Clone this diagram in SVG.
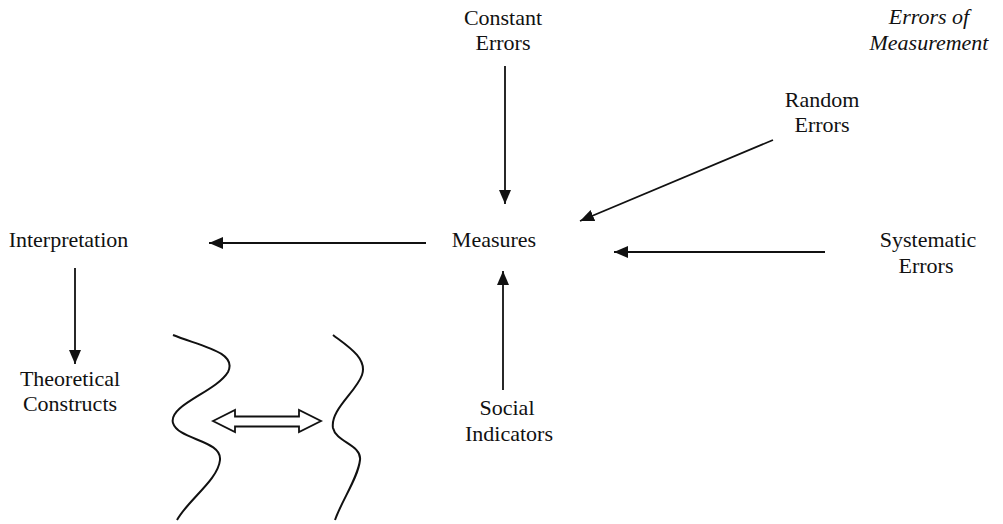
<svg xmlns="http://www.w3.org/2000/svg" width="1003" height="524" viewBox="0 0 1003 524">
<style>
text{font-family:'Liberation Serif','DejaVu Serif',serif;font-size:22px;fill:#111;text-anchor:middle}
.it{font-style:italic}
.ln{stroke:#111;stroke-width:1.8;fill:none}
.wave{stroke:#111;stroke-width:2;fill:none}
</style>
<defs>
<marker id="ah" viewBox="0 0 14 12" refX="14" refY="6" markerWidth="14" markerHeight="12" markerUnits="userSpaceOnUse" orient="auto">
<path d="M0,0 L14,6 L0,12 z" fill="#111"/>
</marker>
</defs>
<g id="errors-of-measurement"><text class="it" x="929" y="24">Errors of</text><text class="it" x="929" y="50">Measurement</text></g>
<g id="constant-errors"><text x="503" y="25">Constant</text><text x="503" y="50">Errors</text></g>
<g id="random-errors"><text x="822" y="107">Random</text><text x="822" y="132">Errors</text></g>
<g id="measures"><text x="494" y="247">Measures</text></g>
<g id="interpretation"><text x="68.5" y="247">Interpretation</text></g>
<g id="systematic-errors"><text x="928" y="247">Systematic</text><text x="926" y="273">Errors</text></g>
<g id="theoretical-constructs"><text x="70" y="386">Theoretical</text><text x="70" y="411">Constructs</text></g>
<g id="social-indicators"><text x="507" y="415">Social</text><text x="509" y="441">Indicators</text></g>
<g id="gap-symbol">
<path class="wave" d="M173,335 C200,346 238,352 228,372 C216,392 168,405 173,423 C178,440 222,440 220,460 C218,480 188,500 177,520"/>
<path class="wave" d="M333,335 C346,345 368,358 362,375 C356,392 330,410 333,428 C336,442 362,445 360,460 C358,478 342,500 335,520"/>
<path d="M213,421 L235,410 L235,416.5 L299,416.5 L299,410 L321,421 L299,432 L299,426.5 L235,426.5 L235,432 z" fill="#fff" stroke="#111" stroke-width="1.8" stroke-linejoin="miter"/>
</g>
<g id="connectors">
<line class="ln" x1="505" y1="66" x2="505" y2="204" marker-end="url(#ah)"/>
<line class="ln" x1="773" y1="140" x2="580" y2="221" marker-end="url(#ah)"/>
<line class="ln" x1="825" y1="252" x2="614" y2="252" marker-end="url(#ah)"/>
<line class="ln" x1="426" y1="243" x2="209" y2="243" marker-end="url(#ah)"/>
<line class="ln" x1="75" y1="268" x2="75" y2="364" marker-end="url(#ah)"/>
<line class="ln" x1="503" y1="390" x2="503" y2="271" marker-end="url(#ah)"/>
</g>
</svg>
